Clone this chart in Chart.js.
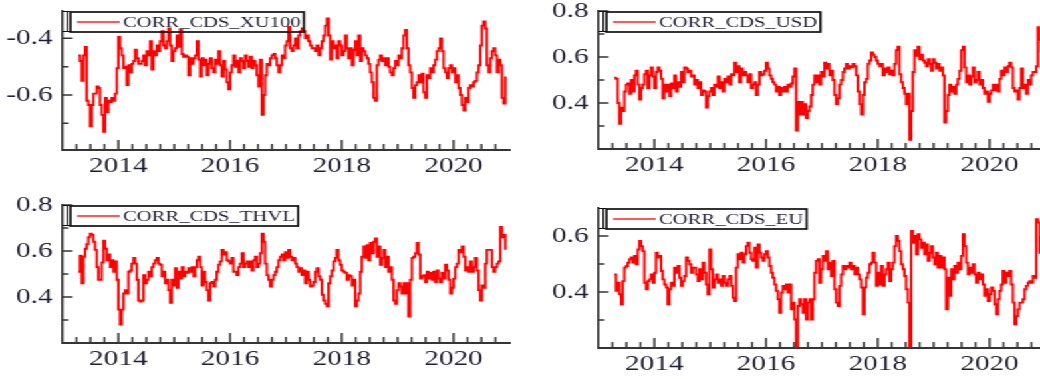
<!DOCTYPE html>
<html><head><meta charset="utf-8">
<script src="https://cdn.jsdelivr.net/npm/chart.js@4.4.1/dist/chart.umd.min.js"></script>
<style>
html,body{margin:0;padding:0;background:#fff;overflow:hidden;width:1040px;height:379px;}
#stage{position:absolute;left:0;top:0;width:782px;height:379px;transform:scaleX(1.33);transform-origin:0 0;}
.panel{position:absolute;}
</style></head><body><div id="stage"></div>
<script>
// time index: first observation and spacing (decimal years)
const startYear = 2013.284;
const stepYears = 0.02985;

const xu100 = [
-0.46,-0.48,-0.55,-0.46,-0.43,-0.62,-0.635,-0.71,-0.635,-0.595,
-0.595,-0.57,-0.575,-0.635,-0.67,-0.73,-0.61,-0.66,-0.62,-0.625,
-0.61,-0.62,-0.595,-0.505,-0.395,-0.435,-0.46,-0.505,-0.50,-0.565,
-0.495,-0.52,-0.49,-0.48,-0.44,-0.47,-0.49,-0.49,-0.48,-0.46,
-0.495,-0.445,-0.46,-0.41,-0.51,-0.445,-0.46,-0.425,-0.445,-0.41,
-0.375,-0.425,-0.435,-0.41,-0.365,-0.425,-0.48,-0.445,-0.435,-0.39,
-0.43,-0.37,-0.455,-0.465,-0.46,-0.465,-0.53,-0.47,-0.49,-0.47,
-0.46,-0.41,-0.475,-0.535,-0.47,-0.495,-0.475,-0.53,-0.49,-0.47,
-0.505,-0.52,-0.475,-0.49,-0.445,-0.495,-0.535,-0.48,-0.51,-0.555,
-0.58,-0.52,-0.495,-0.46,-0.50,-0.48,-0.52,-0.47,-0.48,-0.505,
-0.46,-0.48,-0.50,-0.465,-0.505,-0.48,-0.495,-0.53,-0.57,-0.475,
-0.67,-0.60,-0.53,-0.49,-0.495,-0.47,-0.46,-0.455,-0.47,-0.495,
-0.52,-0.495,-0.46,-0.47,-0.425,-0.41,-0.36,-0.435,-0.445,-0.425,
-0.40,-0.435,-0.39,-0.375,-0.365,-0.375,-0.40,-0.39,-0.41,-0.425,
-0.435,-0.435,-0.445,-0.425,-0.46,-0.435,-0.41,-0.39,-0.355,-0.33,
-0.39,-0.475,-0.41,-0.435,-0.425,-0.47,-0.41,-0.425,-0.46,-0.445,
-0.39,-0.435,-0.47,-0.435,-0.495,-0.44,-0.41,-0.46,-0.39,-0.48,
-0.435,-0.445,-0.46,-0.47,-0.49,-0.52,-0.555,-0.61,-0.62,-0.495,
-0.475,-0.46,-0.48,-0.47,-0.495,-0.47,-0.50,-0.52,-0.53,-0.505,
-0.48,-0.495,-0.46,-0.47,-0.435,-0.39,-0.37,-0.435,-0.495,-0.52,
-0.575,-0.61,-0.565,-0.555,-0.53,-0.555,-0.525,-0.59,-0.61,-0.53,
-0.54,-0.505,-0.52,-0.495,-0.475,-0.445,-0.435,-0.40,-0.445,-0.505,
-0.52,-0.54,-0.505,-0.495,-0.52,-0.505,-0.555,-0.53,-0.575,-0.60,
-0.635,-0.655,-0.61,-0.625,-0.575,-0.565,-0.57,-0.555,-0.55,-0.52,
-0.495,-0.425,-0.355,-0.34,-0.365,-0.495,-0.52,-0.47,-0.445,-0.435,
-0.46,-0.52,-0.475,-0.495,-0.61,-0.63,-0.535
];

const usd = [
0.51,0.505,0.40,0.31,0.38,0.365,0.45,0.48,0.485,0.44,
0.50,0.45,0.52,0.54,0.48,0.415,0.465,0.48,0.525,0.54,
0.465,0.52,0.555,0.515,0.465,0.535,0.555,0.54,0.505,0.42,
0.48,0.45,0.48,0.43,0.485,0.465,0.52,0.45,0.49,0.47,
0.535,0.49,0.555,0.55,0.535,0.54,0.515,0.52,0.48,0.50,
0.465,0.49,0.435,0.455,0.45,0.38,0.43,0.45,0.465,0.435,
0.48,0.47,0.515,0.465,0.49,0.45,0.505,0.49,0.515,0.48,
0.525,0.52,0.575,0.535,0.56,0.49,0.55,0.52,0.535,0.52,
0.49,0.525,0.465,0.48,0.49,0.435,0.48,0.535,0.52,0.525,
0.54,0.575,0.55,0.52,0.505,0.49,0.48,0.45,0.47,0.435,
0.465,0.45,0.47,0.45,0.48,0.47,0.485,0.515,0.55,0.28,
0.405,0.35,0.405,0.35,0.395,0.335,0.365,0.385,0.435,0.48,
0.52,0.49,0.52,0.48,0.535,0.515,0.575,0.55,0.57,0.52,
0.54,0.50,0.435,0.395,0.42,0.48,0.50,0.535,0.55,0.57,
0.55,0.56,0.555,0.57,0.56,0.52,0.45,0.395,0.35,0.435,
0.49,0.505,0.57,0.585,0.62,0.61,0.60,0.585,0.57,0.56,
0.57,0.52,0.55,0.535,0.555,0.525,0.54,0.52,0.57,0.63,
0.645,0.525,0.49,0.465,0.44,0.395,0.44,0.24,0.365,0.535,
0.63,0.605,0.645,0.59,0.61,0.585,0.575,0.56,0.59,0.57,
0.54,0.59,0.575,0.55,0.57,0.54,0.555,0.52,0.315,0.365,
0.435,0.48,0.45,0.47,0.44,0.48,0.505,0.54,0.63,0.645,
0.555,0.49,0.52,0.48,0.515,0.555,0.49,0.50,0.535,0.48,
0.50,0.465,0.44,0.45,0.405,0.44,0.455,0.48,0.455,0.48,
0.45,0.505,0.54,0.52,0.555,0.535,0.56,0.575,0.555,0.465,
0.45,0.455,0.415,0.465,0.55,0.465,0.48,0.44,0.50,0.48,
0.52,0.535,0.535,0.56,0.73,0.675,0.62
];

const thvl = [
0.51,0.58,0.46,0.575,0.61,0.63,0.66,0.675,0.67,0.64,
0.605,0.53,0.475,0.475,0.55,0.645,0.61,0.56,0.585,0.53,
0.56,0.51,0.555,0.475,0.345,0.28,0.345,0.415,0.43,0.415,
0.51,0.515,0.545,0.57,0.545,0.475,0.385,0.38,0.385,0.495,
0.46,0.475,0.51,0.49,0.53,0.545,0.56,0.57,0.545,0.54,
0.49,0.51,0.46,0.475,0.43,0.375,0.475,0.45,0.525,0.44,
0.51,0.48,0.53,0.49,0.51,0.505,0.525,0.51,0.53,0.49,
0.53,0.56,0.575,0.53,0.45,0.51,0.465,0.43,0.385,0.46,
0.465,0.445,0.475,0.51,0.54,0.555,0.605,0.585,0.595,0.56,
0.555,0.545,0.57,0.51,0.51,0.495,0.53,0.545,0.59,0.53,
0.545,0.555,0.53,0.555,0.515,0.56,0.575,0.53,0.545,0.59,
0.675,0.64,0.545,0.495,0.475,0.445,0.475,0.495,0.51,0.53,
0.56,0.575,0.585,0.56,0.595,0.57,0.605,0.575,0.56,0.57,
0.545,0.53,0.51,0.525,0.495,0.515,0.46,0.51,0.475,0.445,
0.45,0.465,0.51,0.525,0.49,0.475,0.41,0.385,0.37,0.36,
0.46,0.49,0.515,0.555,0.57,0.605,0.56,0.54,0.515,0.51,
0.505,0.475,0.495,0.49,0.45,0.475,0.36,0.385,0.415,0.51,
0.575,0.62,0.57,0.625,0.56,0.635,0.59,0.64,0.655,0.575,
0.62,0.54,0.57,0.605,0.53,0.575,0.51,0.53,0.475,0.385,
0.37,0.43,0.46,0.445,0.415,0.46,0.415,0.46,0.315,0.475,
0.57,0.575,0.59,0.635,0.585,0.48,0.49,0.495,0.465,0.51,
0.48,0.505,0.475,0.51,0.465,0.515,0.48,0.465,0.505,0.48,
0.54,0.515,0.475,0.415,0.44,0.48,0.53,0.545,0.605,0.595,
0.62,0.575,0.515,0.53,0.51,0.555,0.51,0.53,0.57,0.515,
0.43,0.385,0.45,0.44,0.545,0.605,0.605,0.605,0.53,0.51,
0.53,0.545,0.555,0.705,0.66,0.67,0.605
];

const eu = [
0.463,0.404,0.433,0.392,0.356,0.439,0.487,0.493,0.505,0.517,
0.523,0.505,0.529,0.499,0.552,0.582,0.564,0.546,0.433,0.410,
0.439,0.445,0.463,0.433,0.469,0.540,0.523,0.529,0.475,0.445,
0.427,0.416,0.356,0.410,0.433,0.422,0.487,0.469,0.493,0.451,
0.422,0.439,0.457,0.523,0.511,0.499,0.469,0.487,0.487,0.463,
0.439,0.481,0.445,0.505,0.469,0.427,0.392,0.552,0.481,0.416,
0.445,0.463,0.433,0.445,0.422,0.457,0.433,0.422,0.445,0.457,
0.422,0.380,0.368,0.487,0.535,0.517,0.540,0.505,0.535,0.564,
0.576,0.540,0.517,0.511,0.558,0.487,0.570,0.540,0.523,0.511,
0.535,0.546,0.523,0.493,0.469,0.451,0.427,0.404,0.374,0.326,
0.398,0.422,0.410,0.427,0.398,0.427,0.338,0.362,0.302,0.205,
0.350,0.374,0.356,0.326,0.374,0.302,0.362,0.374,0.302,0.374,
0.469,0.511,0.517,0.433,0.481,0.529,0.511,0.546,0.481,0.505,
0.457,0.511,0.410,0.362,0.350,0.422,0.463,0.493,0.481,0.493,
0.487,0.505,0.481,0.493,0.463,0.487,0.463,0.445,0.416,0.320,
0.416,0.451,0.469,0.499,0.505,0.540,0.505,0.422,0.469,0.427,
0.493,0.422,0.463,0.481,0.505,0.439,0.481,0.505,0.564,0.600,
0.582,0.546,0.499,0.481,0.457,0.410,0.362,0.205,0.618,0.576,
0.600,0.535,0.606,0.588,0.558,0.576,0.535,0.570,0.511,0.540,
0.564,0.523,0.499,0.540,0.487,0.529,0.487,0.523,0.481,0.338,
0.451,0.386,0.481,0.445,0.493,0.469,0.505,0.481,0.529,0.606,
0.564,0.505,0.463,0.487,0.469,0.499,0.463,0.433,0.469,0.445,
0.463,0.427,0.386,0.410,0.368,0.392,0.416,0.404,0.356,0.320,
0.374,0.404,0.427,0.475,0.433,0.469,0.457,0.475,0.427,0.362,
0.285,0.314,0.338,0.362,0.362,0.374,0.410,0.422,0.433,0.439,
0.433,0.457,0.451,0.660,0.648,0.540,0.60
];

const seriesLabels = ["CORR_CDS_XU100", "CORR_CDS_USD", "CORR_CDS_THVL", "CORR_CDS_EU"];
const xTickLabels = [2014, 2016, 2018, 2020];
const yTicksXU100 = [-0.4, -0.6];
const yMinorXU100 = [-0.5, -0.7];
const yTicksUSD = [0.8, 0.6, 0.4];
const yMinorUSD = [0.7, 0.5, 0.3];
const yTicksTHVL = [0.8, 0.6, 0.4];
const yMinorTHVL = [0.7, 0.5, 0.3];
const yTicksEU = [0.6, 0.4];
const yMinorEU = [0.5, 0.3];

// quarterly minor ticks on the time axis
const xMinorTicks = [];
for (let q = 2013.25; q < 2021; q += 0.25) {
  if (!xTickLabels.some(t => Math.abs(t - q) < 1e-6)) xMinorTicks.push(q);
}

const FONT = "'Liberation Serif', 'Times New Roman', serif";
const AXIS = '#353535';
const TEXT = '#1e1e32';
const padL = 45, padT = 14, padR = 6, padB = 32;

const panels = [
  {label: seriesLabels[0], values: xu100, min: -0.794, max: -0.3035, major: yTicksXU100, minor: yMinorXU100, area: {left: 47.4, top: 11, width: 335.7, height: 139}},
  {label: seriesLabels[1], values: usd, min: 0.2, max: 0.8, major: yTicksUSD, minor: yMinorUSD, area: {left: 450, top: 10.5, width: 335.7, height: 138}},
  {label: seriesLabels[2], values: thvl, min: 0.2, max: 0.8, major: yTicksTHVL, minor: yMinorTHVL, area: {left: 47.4, top: 204.5, width: 335.7, height: 138}},
  {label: seriesLabels[3], values: eu, min: 0.2, max: 0.7, major: yTicksEU, minor: yMinorEU, area: {left: 449.5, top: 208, width: 335.7, height: 140}}
];

const inwardTicks = {
  id: 'inwardTicks',
  afterDatasetsDraw(chart, args, opts) {
    const {ctx, chartArea: a, scales: {x, y}} = chart;
    ctx.save();
    ctx.strokeStyle = AXIS;
    ctx.lineWidth = 1.5;
    ctx.beginPath();
    xTickLabels.forEach(v => { const p = x.getPixelForValue(v); ctx.moveTo(p, a.bottom); ctx.lineTo(p, a.bottom - 10); });
    xMinorTicks.forEach(v => { const p = x.getPixelForValue(v); ctx.moveTo(p, a.bottom); ctx.lineTo(p, a.bottom - 6); });
    opts.major.forEach(v => { const p = y.getPixelForValue(v); ctx.moveTo(a.left, p); ctx.lineTo(a.left + 7.5, p); });
    opts.minor.forEach(v => { const p = y.getPixelForValue(v); ctx.moveTo(a.left, p); ctx.lineTo(a.left + 4.5, p); });
    ctx.stroke();
    ctx.restore();
  }
};

const legendBox = {
  id: 'legendBox',
  afterDatasetsDraw(chart) {
    const {ctx, chartArea: a} = chart;
    const ds = chart.data.datasets[0];
    ctx.save();
    ctx.font = "15.5px " + FONT;
    const textX = a.left + 45.5;
    const tw = ctx.measureText(ds.label).width;
    const top = a.top + 0.5, bottom = a.top + 20.5, cy = a.top + 11;
    const right = textX + tw + 2.5;
    ctx.strokeStyle = '#111';
    ctx.lineWidth = 1;
    ctx.beginPath();
    ctx.moveTo(a.left, top); ctx.lineTo(a.left + 6, top);
    ctx.moveTo(a.left + 3.5, top); ctx.lineTo(a.left + 3.5, bottom);
    ctx.moveTo(a.left, bottom); ctx.lineTo(a.left + 6, bottom);
    ctx.stroke();
    ctx.lineWidth = 1.7;
    ctx.strokeRect(a.left + 6, top + 0.5, right - a.left - 6, bottom - top);
    ctx.strokeStyle = ds.borderColor;
    ctx.lineWidth = 1.3;
    ctx.beginPath();
    ctx.moveTo(a.left + 11, cy); ctx.lineTo(a.left + 43, cy);
    ctx.stroke();
    ctx.fillStyle = TEXT;
    ctx.textBaseline = 'middle';
    ctx.textAlign = 'left';
    ctx.fillText(ds.label, textX, cy + 0.5);
    ctx.restore();
  }
};

function zeroPad(s) { s.paddingTop = 0; s.paddingBottom = 0; s.paddingLeft = 0; s.paddingRight = 0; }

const stage = document.getElementById('stage');
panels.forEach(p => {
  const W = p.area.width + padL + padR;
  const H = p.area.height + padT + padB;
  const div = document.createElement('div');
  div.className = 'panel';
  div.style.left = (p.area.left - padL) + 'px';
  div.style.top = (p.area.top - padT) + 'px';
  div.style.width = W + 'px';
  div.style.height = H + 'px';
  const cv = document.createElement('canvas');
  cv.width = Math.round(W); cv.height = Math.round(H);
  cv.style.width = Math.round(W) + 'px'; cv.style.height = Math.round(H) + 'px';
  div.appendChild(cv);
  stage.appendChild(div);
  new Chart(cv, {
    type: 'line',
    data: {
      datasets: [{
        label: p.label,
        data: p.values.map((v, i) => ({x: startYear + i * stepYears, y: v})),
        borderColor: '#ff0000',
        borderWidth: 1.9,
        pointRadius: 0,
        stepped: true,
        fill: false
      }]
    },
    options: {
      responsive: false,
      animation: false,
      events: [],
      devicePixelRatio: 1,
      layout: {padding: {left: 0, top: padT, right: padR, bottom: 0}},
      plugins: {legend: {display: false}, tooltip: {enabled: false}, inwardTicks: {major: p.major, minor: p.minor}},
      scales: {
        x: {
          type: 'linear', position: 'bottom', min: 2013, max: 2021,
          afterBuildTicks: s => { s.ticks = xTickLabels.map(v => ({value: v})); },
          afterFit: s => { s.height = padB; zeroPad(s); },
          ticks: {callback: v => String(v), font: {family: FONT, size: 22}, color: TEXT, padding: 3, maxRotation: 0, autoSkip: false},
          grid: {display: false, drawTicks: false},
          border: {display: true, color: AXIS, width: 1.9}
        },
        y: {
          type: 'linear', position: 'left', min: p.min, max: p.max,
          afterBuildTicks: s => { s.ticks = p.major.map(v => ({value: v})); },
          afterFit: s => { s.width = padL; zeroPad(s); },
          ticks: {callback: v => Number(v).toFixed(1), font: {family: FONT, size: 22}, color: TEXT, padding: 7.5, autoSkip: false},
          grid: {display: false, drawTicks: false},
          border: {display: true, color: AXIS, width: 1.6}
        }
      }
    },
    plugins: [inwardTicks, legendBox]
  });
});
</script>
</body></html>
